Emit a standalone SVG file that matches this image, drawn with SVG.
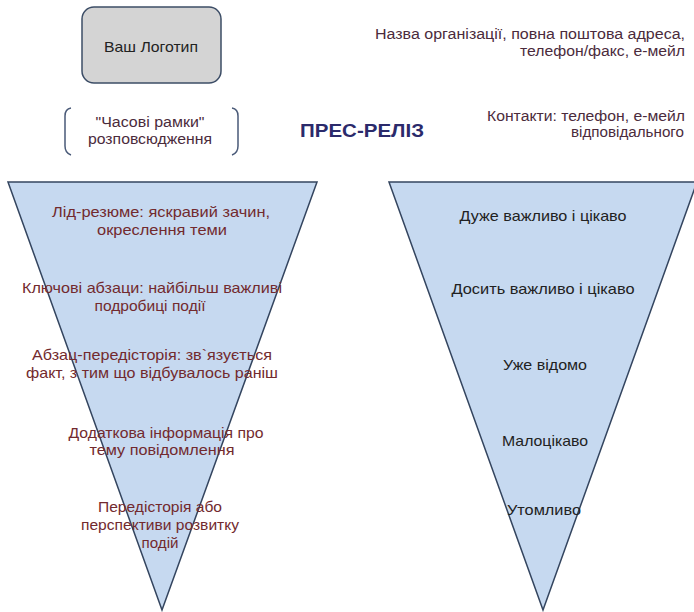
<svg xmlns="http://www.w3.org/2000/svg" width="694" height="612" viewBox="0 0 694 612">
<style>
text{font-family:"Liberation Sans",Arial,sans-serif;}
.box{fill:#d4d4d4;stroke:#3c4d66;stroke-width:1.5;}
.tri{fill:#c6d9f0;stroke:#34455f;stroke-width:1.5;stroke-linejoin:miter;}
.br{fill:none;stroke:#4a5a78;stroke-width:1.5;}
.hd{fill:#4b2b3c;font-size:14px;}
.lt{fill:#722a2e;font-size:15px;text-anchor:middle;}
.rt{fill:#222;font-size:15px;text-anchor:middle;}
.ttl{fill:#2b2a6b;font-size:18px;font-weight:bold;}
</style>
<rect width="694" height="612" fill="#fff"/>
<g id="logo">
<rect class="box" x="82" y="7" width="139" height="76" rx="12"/>
<text x="151" y="52" font-size="15" fill="#222" text-anchor="middle" textLength="94" lengthAdjust="spacingAndGlyphs">Ваш Логотип</text>
</g>
<g id="timeframe">
<path class="br" d="M71,108 Q65,109 65,116 L65,146 Q65,153 71,155"/>
<path class="br" d="M232,108 Q238,109 238,116 L238,146 Q238,153 232,155"/>
<text class="hd" x="150" y="127" text-anchor="middle" textLength="109" lengthAdjust="spacingAndGlyphs">"Часові рамки"</text>
<text class="hd" x="150" y="144" text-anchor="middle" textLength="124" lengthAdjust="spacingAndGlyphs">розповсюдження</text>
</g>
<g id="title">
<text class="ttl" x="300" y="137" textLength="124" lengthAdjust="spacingAndGlyphs">ПРЕС-РЕЛІЗ</text>
</g>
<g id="org">
<text class="hd" x="685" y="39" text-anchor="end" textLength="310" lengthAdjust="spacingAndGlyphs">Назва організації, повна поштова адреса,</text>
<text class="hd" x="685" y="56" text-anchor="end" textLength="165" lengthAdjust="spacingAndGlyphs">телефон/факс, е-мейл</text>
</g>
<g id="contacts">
<text class="hd" x="685" y="121" text-anchor="end" textLength="198" lengthAdjust="spacingAndGlyphs">Контакти: телефон, е-мейл</text>
<text class="hd" x="684" y="137" text-anchor="end" textLength="113" lengthAdjust="spacingAndGlyphs">відповідального</text>
</g>
<g id="left-pyramid">
<polygon class="tri" points="8,182 317,182 162,610"/>
<text class="lt" x="161" y="217" textLength="218" lengthAdjust="spacingAndGlyphs">Лід-резюме: яскравий зачин,</text>
<text class="lt" x="162" y="235" textLength="130" lengthAdjust="spacingAndGlyphs">окреслення теми</text>
<text class="lt" x="152" y="293" textLength="260" lengthAdjust="spacingAndGlyphs">Ключові абзаци: найбільш важливі</text>
<text class="lt" x="150" y="311" textLength="111" lengthAdjust="spacingAndGlyphs">подробиці події</text>
<text class="lt" x="152" y="360" textLength="240" lengthAdjust="spacingAndGlyphs">Абзац-передісторія: зв`язується</text>
<text class="lt" x="152" y="378" textLength="252" lengthAdjust="spacingAndGlyphs">факт, з тим що відбувалось раніш</text>
<text class="lt" x="166" y="438" textLength="195" lengthAdjust="spacingAndGlyphs">Додаткова інформація про</text>
<text class="lt" x="162" y="455" textLength="145" lengthAdjust="spacingAndGlyphs">тему повідомлення</text>
<text class="lt" x="160" y="512" textLength="124" lengthAdjust="spacingAndGlyphs">Передісторія або</text>
<text class="lt" x="160" y="530" textLength="158" lengthAdjust="spacingAndGlyphs">перспективи розвитку</text>
<text class="lt" x="160" y="548" textLength="37" lengthAdjust="spacingAndGlyphs">подій</text>
</g>
<g id="right-pyramid">
<polygon class="tri" points="389,182 697,182 543,610"/>
<text class="rt" x="543" y="221" textLength="167" lengthAdjust="spacingAndGlyphs">Дуже важливо і цікаво</text>
<text class="rt" x="543" y="294" textLength="183" lengthAdjust="spacingAndGlyphs">Досить важливо і цікаво</text>
<text class="rt" x="545" y="370" textLength="84" lengthAdjust="spacingAndGlyphs">Уже відомо</text>
<text class="rt" x="545" y="446" textLength="86" lengthAdjust="spacingAndGlyphs">Малоцікаво</text>
<text class="rt" x="544" y="515" textLength="74" lengthAdjust="spacingAndGlyphs">Утомливо</text>
</g>
<g id="connectors"/>
</svg>
